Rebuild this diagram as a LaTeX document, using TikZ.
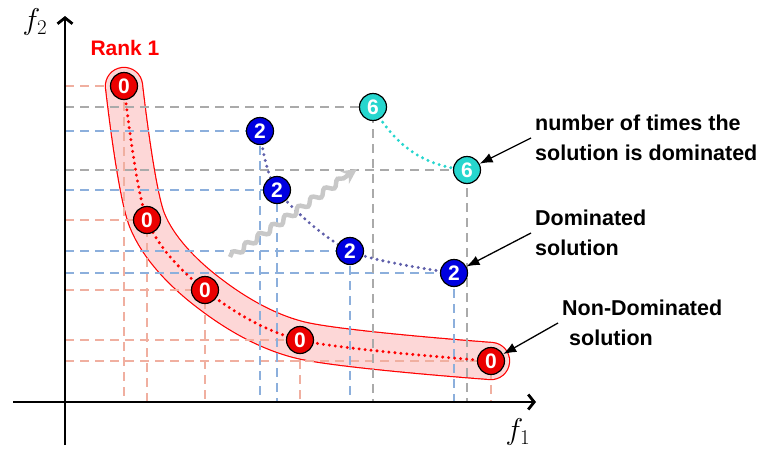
\documentclass[tikz,border=0pt]{standalone}
\usepackage{fix-cm}
\usepackage{fontspec}
\setsansfont{Liberation Sans}
\usetikzlibrary{arrows.meta,backgrounds,decorations.pathmorphing}

\definecolor{solred}{RGB}{235,0,0}
\definecolor{solblue}{RGB}{0,0,225}
\definecolor{sixcyan}{RGB}{38,214,206}
\definecolor{dotblue}{RGB}{95,95,170}
\definecolor{dashred}{RGB}{240,175,160}
\definecolor{dashblue}{RGB}{140,175,220}
\definecolor{dashgray}{RGB}{170,170,170}
\definecolor{bandfill}{RGB}{253,215,215}
\definecolor{wavegray}{RGB}{200,200,200}

\tikzset{
  sol/.style={circle,draw=black,line width=1.2pt,minimum size=27pt,inner sep=0pt,text=white,font=\sffamily\bfseries\fontsize{21}{21}\selectfont},
  proj/.style={line width=1.2pt,dash pattern=on 9pt off 6pt},
  front/.style={line width=3.3pt,line cap=round,dash pattern=on 0pt off 6pt},
  note/.style={anchor=west,align=left,inner sep=4pt,font=\sffamily\bfseries\fontsize{21.5}{30}\selectfont},
  axis/.style={line width=2.8pt,-{Straight Barb[length=6pt,width=15pt]}},
  pointer/.style={line width=1.3pt,-{Latex[length=13pt,width=10pt]}},
}

\begin{document}
\begin{tikzpicture}[x=1pt,y=-1pt,>=Latex]
  \useasboundingbox (0,0) rectangle (764,453);
  \coordinate (O) at (65,402);
  \coordinate (xl) at (13,402);
  \coordinate (xr) at (536,402);
  \coordinate (yb) at (65,445);
  \coordinate (yt) at (65,16);
  \coordinate (w0) at (230,257);
  \coordinate (w1) at (357,169);

  \draw[axis] (xl) -- (xr);
  \draw[axis] (yb) -- (yt);
  \node[font=\fontsize{30}{30}\selectfont] (f2) at (35,22) {$f_2$};
  \node[font=\fontsize{30}{30}\selectfont] (f1) at (518,432) {$f_1$};
  \node[text=red,font=\sffamily\bfseries\fontsize{21}{21}\selectfont] (rank) at (125,48) {Rank 1};

  \foreach \n/\x/\y in {1/124/86,2/147/220,3/205/290,4/300/340,5/491/361}
    \node[sol,fill=solred] (r\n) at (\x,\y) {0};
  \foreach \n/\x/\y in {1/260/131,2/277/190,3/350/251,4/454/273}
    \node[sol,fill=solblue] (b\n) at (\x,\y) {2};
  \foreach \n/\x/\y in {1/373/107,2/467/170}
    \node[sol,fill=sixcyan] (c\n) at (\x,\y) {6};

  \begin{scope}[on background layer]
    \draw[red,line width=1.2pt,double=bandfill,double distance=36pt,line cap=round]
      plot[smooth] coordinates {(r1.center) (r2.center) (r3.center) (r4.center) (r5.center)};
    \foreach \n in {1,...,5}
      \draw[proj,dashred] (r\n.center -| O) -- (r\n.center) -- (r\n.center |- O);
    \foreach \n in {1,...,4}
      \draw[proj,dashblue] (b\n.center -| O) -- (b\n.center) -- (b\n.center |- O);
    \foreach \n in {1,2}
      \draw[proj,dashgray] (c\n.center -| O) -- (c\n.center) -- (c\n.center |- O);
    \draw[front,red] plot[smooth] coordinates {(r1.center) (r2.center) (r3.center) (r4.center) (r5.center)};
    \draw[front,dotblue] plot[smooth] coordinates {(b1.center) (b2.center) (b3.center) (b4.center)};
    \draw[front,sixcyan] (c1.center) to[out=-60,in=175] (c2.center);
    \draw[wavegray,line width=4.5pt,decorate,decoration={snake,amplitude=3pt,segment length=16pt,post length=14pt},-{Stealth[length=15pt,width=15pt]}] (w0) -- (w1);
  \end{scope}

  \node[note] (tnum) at (531,138) {number of times the\\solution is dominated};
  \node[note] (tdom) at (531,233) {Dominated\\solution};
  \node[note] (tnon) at (558,323) {Non-Dominated\\\hspace*{7pt}solution};
  \draw[pointer] (tnum.west) -- (c2);
  \draw[pointer] (tdom.west) -- (b4);
  \draw[pointer] (tnon.west) -- (r5);
\end{tikzpicture}
\end{document}
